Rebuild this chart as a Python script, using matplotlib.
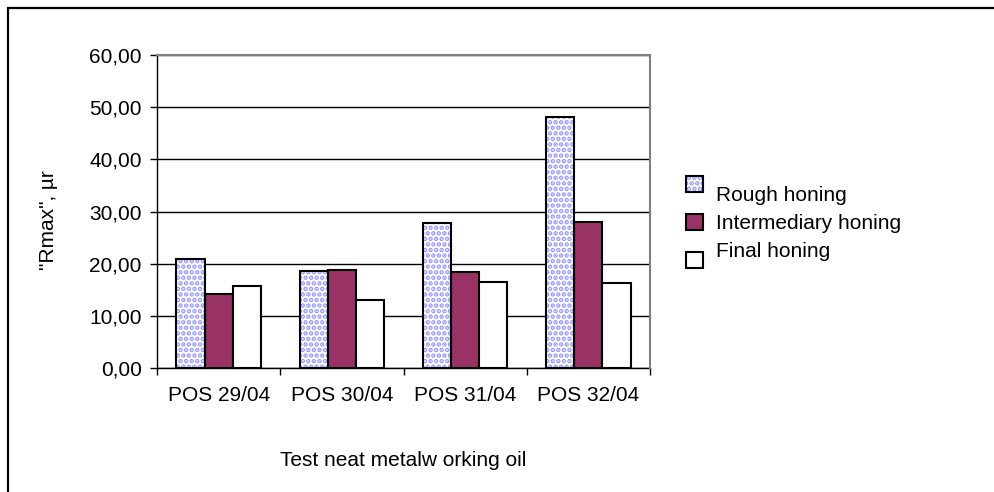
import matplotlib
matplotlib.use("Agg")
import matplotlib.pyplot as plt
from matplotlib.patches import Rectangle
from matplotlib.legend_handler import HandlerPatch
import numpy as np

plt.rcParams['font.family'] = ['Liberation Sans', 'DejaVu Sans']
plt.rcParams['hatch.linewidth'] = 2.3

categories = ["POS 29/04", "POS 30/04", "POS 31/04", "POS 32/04"]
series_names = ["Rough honing", "Intermediary honing", "Final honing"]
rough = [20.8, 18.5, 27.7, 48.1]
intermediary = [14.2, 18.8, 18.4, 27.9]
final = [15.8, 13.1, 16.5, 16.2]
yticks = [0, 10, 20, 30, 40, 50, 60]
ytick_labels = ["0,00", "10,00", "20,00", "30,00", "40,00", "50,00", "60,00"]

FS = 15
PAT = '#9999ff'
W, H = 994, 492
fig = plt.figure(figsize=(W / 100, H / 100), dpi=100)
ax = fig.add_axes([157 / W, 124 / H, (650 - 157) / W, 313 / H])

x = np.arange(len(categories))
w = 0.228

# Rough honing: patterned fill then black outline
ax.bar(x - w, rough, w, color='white', edgecolor=PAT, hatch='...', linewidth=0, zorder=3)
ax.bar(x - w, rough, w, fill=False, edgecolor='black', linewidth=1.5, zorder=4)
ax.bar(x, intermediary, w, color='#993366', edgecolor='black', linewidth=1.5, zorder=3)
ax.bar(x + w, final, w, color='white', edgecolor='black', linewidth=1.5, zorder=3)

ax.set_xlim(-0.5, len(categories) - 0.5)
ax.set_ylim(0, 60)
ax.set_yticks(yticks)
ax.set_yticklabels(ytick_labels, fontsize=FS)
ax.yaxis.grid(True, color='black', linewidth=1.0, zorder=0)
ax.set_axisbelow(True)
ax.set_xticks(x)
ax.set_xticklabels(categories, fontsize=FS)
ax.tick_params(axis='x', length=0, pad=13)
ax.set_xticks(np.arange(len(categories) + 1) - 0.5, minor=True)
ax.tick_params(axis='x', which='minor', length=5, width=1, direction='out')
ax.tick_params(axis='y', length=5, width=1, direction='out', pad=6)
for s in ['left', 'bottom']:
    ax.spines[s].set_linewidth(1.0)
for s in ['top', 'right']:
    ax.spines[s].set_linewidth(1.5)
    ax.spines[s].set_color('#808080')
    ax.spines[s].set_zorder(5)

fig.text(48 / W, 1 - 220 / H, '"Rmax", µr', fontsize=FS, rotation=90,
         ha='center', va='center')
fig.text(403 / W, 1 - 460 / H, "Test neat metalw orking oil", fontsize=FS,
         ha='center', va='center')


class ShiftedHandler(HandlerPatch):
    def __init__(self, dy, **kw):
        super().__init__(**kw)
        self.dy = dy

    def create_artists(self, legend, orig_handle, xdescent, ydescent,
                       width, height, fontsize, trans):
        p = Rectangle((-xdescent, -ydescent + self.dy), width, height)
        self.update_prop(p, orig_handle, legend)
        p.set_transform(trans)
        return [p]


class HatchedOutlined(HandlerPatch):
    def __init__(self, dy, **kw):
        super().__init__(**kw)
        self.dy = dy

    def create_artists(self, legend, orig_handle, xdescent, ydescent,
                       width, height, fontsize, trans):
        p = Rectangle((-xdescent, -ydescent + self.dy), width, height,
                      facecolor='white', edgecolor=PAT, hatch='...', linewidth=0)
        q = Rectangle((-xdescent, -ydescent + self.dy), width, height,
                      fill=False, edgecolor='black', linewidth=1.5)
        p.set_transform(trans)
        q.set_transform(trans)
        return [p, q]


# legend
h1 = Rectangle((0, 0), 1, 1, facecolor='white', edgecolor=PAT, hatch='...', linewidth=0)
h2 = Rectangle((0, 0), 1, 1, facecolor='#993366', edgecolor='black', linewidth=1.5)
h3 = Rectangle((0, 0), 1, 1, facecolor='white', edgecolor='black', linewidth=1.5)

leg = fig.legend([h1, h2, h3], series_names, loc='upper left',
                 bbox_to_anchor=(667 / W, 1 - 167 / H), frameon=False,
                 fontsize=FS, handlelength=0.82, handleheight=0.82,
                 labelspacing=0.42, handletextpad=0.62,
                 handler_map={h1: HatchedOutlined(7), h2: ShiftedHandler(0),
                              h3: ShiftedHandler(-7)})

# outer chart border (partly cropped)
fig.add_artist(Rectangle((8 / W, -0.1), 1.2, (1 - 8 / H) + 0.1, transform=fig.transFigure,
                         fill=False, edgecolor='black', linewidth=1.6))

fig.savefig("out.png", dpi=100)
